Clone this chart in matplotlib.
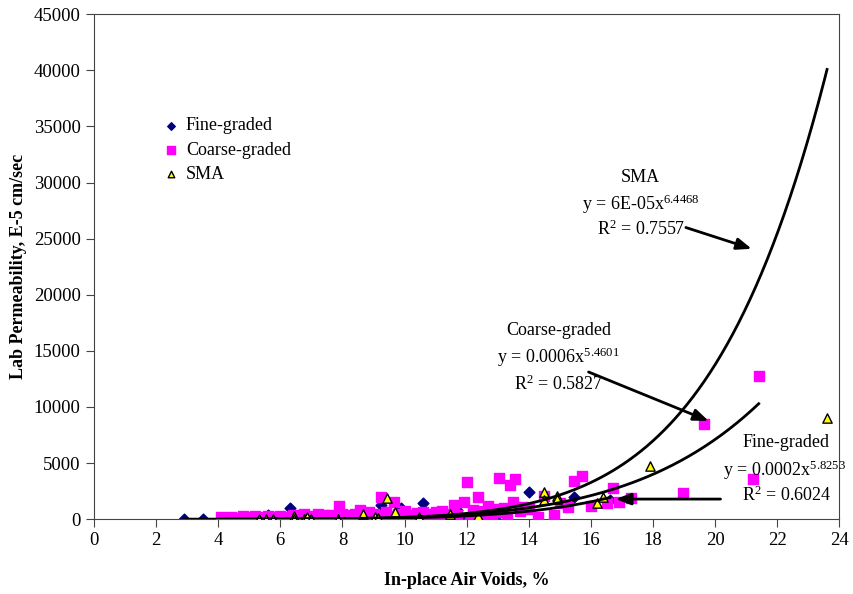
import matplotlib.pyplot as plt
import numpy as np

plt.rcParams['font.family'] = ['Liberation Serif', 'DejaVu Serif']
plt.rcParams['mathtext.fontset'] = 'custom'
plt.rcParams['mathtext.rm'] = 'Liberation Serif'
plt.rcParams['mathtext.it'] = 'Liberation Serif:italic'

# data
fine_x = [2.9, 3.5, 5.6, 6.3, 9.25, 9.9, 10.45, 10.6, 11.7, 12.0, 12.35, 14.0, 15.45, 16.6,
          4.5, 5.2, 6.0, 7.1, 8.0, 8.8, 11.0, 13.0]
fine_y = [0, 0, 350, 1000, 1300, 1000, 500, 1400, 800, 0, 600, 2400, 2000, 1700,
          100, 150, 200, 250, 300, 200, 400, 500]

coarse_x = [4.1, 4.2, 4.4, 4.6, 4.8, 5.0, 5.2, 5.4, 5.6, 5.8, 6.0, 6.2, 6.4, 6.6, 6.75,
            7.0, 7.2, 7.4, 7.6, 7.9, 8.0, 8.2, 8.4, 8.55, 8.7, 8.85, 9.0, 9.1, 9.25, 9.4,
            9.65, 9.8, 10.0, 10.2, 10.4, 10.6, 10.8, 11.0, 11.2, 11.4, 11.6, 11.9, 12.0,
            12.2, 12.35, 12.5, 12.7, 12.9, 13.05, 13.2, 13.4, 13.5, 13.55, 13.8, 14.0,
            14.3, 14.5, 14.8, 15.0, 15.25, 15.45, 15.7, 16.0, 16.5, 16.7, 16.9, 17.3,
            18.95, 19.65, 21.2, 21.4,
            4.3, 5.1, 5.9, 6.9, 7.5, 8.3, 9.5, 10.1, 10.9, 11.5, 12.1, 12.8, 13.3, 11.3,
            4.5, 4.7, 4.9, 5.3, 5.5, 5.7, 6.1, 6.3, 6.5, 6.7, 7.1, 7.3, 7.7, 7.8, 8.1,
            8.5, 8.9, 9.2, 9.6, 9.9, 10.3, 10.5, 10.7, 11.1, 11.7, 12.6, 13.0, 13.7]
coarse_y = [150, 50, 200, 100, 250, 150, 300, 200, 250, 150, 300, 200, 350, 250, 450,
            300, 500, 350, 400, 1150, 450, 350, 500, 800, 400, 650, 500, 350, 2000, 600,
            1500, 450, 700, 400, 550, 650, 500, 600, 700, 450, 1250, 1500, 3300,
            800, 2000, 700, 1150, 900, 3650, 1000, 3000, 1500, 3550, 1100, 900,
            200, 2100, 350, 1400, 1050, 3400, 3850, 1200, 1400, 2750, 1500, 1900,
            2300, 8500, 3600, 12800,
            0, 0, 50, 100, 50, 150, 100, 150, 100, 200, 50, 300, 200, 0,
            50, 100, 0, 100, 50, 150, 100, 50, 150, 100, 150, 250, 200, 100, 250,
            200, 300, 150, 300, 250, 200, 350, 150, 300, 400, 450, 600, 700]

sma_x = [5.3, 5.55, 5.75, 6.45, 6.45, 6.75, 6.85, 7.0, 7.85, 8.65, 9.05, 9.15, 9.45, 9.7,
         10.45, 11.45, 12.35, 14.5, 14.5, 14.9, 14.9, 16.2, 16.4, 17.9, 23.6]
sma_y = [0, 0, 0, 250, 0, 0, 150, 0, 0, 450, 150, 100, 1900, 650,
         150, 450, 250, 2400, 1700, 2050, 1800, 1450, 1950, 4700, 9000]

# power trendlines: coefficient, exponent, x range
fits = {
    'Fine-graded': (0.00015, 5.8253, 2.9, 16.6),
    'Coarse-graded': (0.00056, 5.4601, 4.1, 21.4),
    'SMA': (5.65e-05, 6.4468, 5.3, 23.6),
}

fig = plt.figure(figsize=(8.54, 5.94), dpi=100)
ax = fig.add_axes([0.110, 0.126, 0.873, 0.850])

ax.scatter(fine_x, fine_y, marker='D', s=30, color='#000080', label='Fine-graded', zorder=2)
ax.scatter(coarse_x, coarse_y, marker='s', s=55, color='#ff00ff', label='Coarse-graded', zorder=3)
ax.scatter(sma_x, sma_y, marker='^', s=45, facecolor='#ffff00', edgecolor='black',
           linewidth=1, label='SMA', zorder=4)

for name, (a, b, x0, x1) in fits.items():
    xs = np.linspace(x0, x1, 200)
    ax.plot(xs, a * xs ** b, color='black', linewidth=2, zorder=5)

# labels and arrows
fs = 13
ax.text(17.6, 30450, 'SMA', ha='center', va='center', fontsize=fs)
ax.text(17.6, 28040, 'y = 6E-05x$^{6.4468}$', ha='center', va='center', fontsize=fs)
ax.text(17.6, 25800, 'R$^{2}$ = 0.7557', ha='center', va='center', fontsize=fs)

ax.text(14.95, 16790, 'Coarse-graded', ha='center', va='center', fontsize=fs)
ax.text(14.95, 14460, 'y = 0.0006x$^{5.4601}$', ha='center', va='center', fontsize=fs)
ax.text(14.95, 12050, 'R$^{2}$ = 0.5827', ha='center', va='center', fontsize=fs)

ax.text(22.29, 6790, 'Fine-graded', ha='center', va='center', fontsize=fs)
ax.text(22.23, 4375, 'y = 0.0002x$^{5.8253}$', ha='center', va='center', fontsize=fs)
ax.text(22.29, 2140, 'R$^{2}$ = 0.6024', ha='center', va='center', fontsize=fs)

arrow = dict(arrowstyle='-|>,head_length=0.9,head_width=0.35', color='black', lw=2)
ax.annotate('', xy=(21.26, 24020), xytext=(18.97, 26070), arrowprops=arrow, zorder=6)
ax.annotate('', xy=(19.87, 8660), xytext=(15.84, 13210), arrowprops=arrow, zorder=6)
ax.annotate('', xy=(16.71, 1790), xytext=(20.26, 1790), arrowprops=arrow, zorder=6)

ax.set_xlim(0, 24)
ax.set_ylim(0, 45000)
ax.set_xticks(np.arange(0, 25, 2))
ax.set_yticks(np.arange(0, 45001, 5000))
ax.tick_params(direction='out', length=6, labelsize=13.5, color='#444444')
for sp in ax.spines.values():
    sp.set_color('#444444')

ax.set_xlabel('In-place Air Voids, %', fontsize=13, fontweight='bold', labelpad=16)
ax.set_ylabel('Lab Permeability, E-5 cm/sec', fontsize=13, fontweight='bold', labelpad=5)

ax.legend(loc='upper left', bbox_to_anchor=(0.082, 0.81), frameon=False, fontsize=13,
          markerscale=0.7, handlelength=1.0, handletextpad=0.3, labelspacing=0.4,
          borderaxespad=0)

fig.savefig('out.png', dpi=100)
